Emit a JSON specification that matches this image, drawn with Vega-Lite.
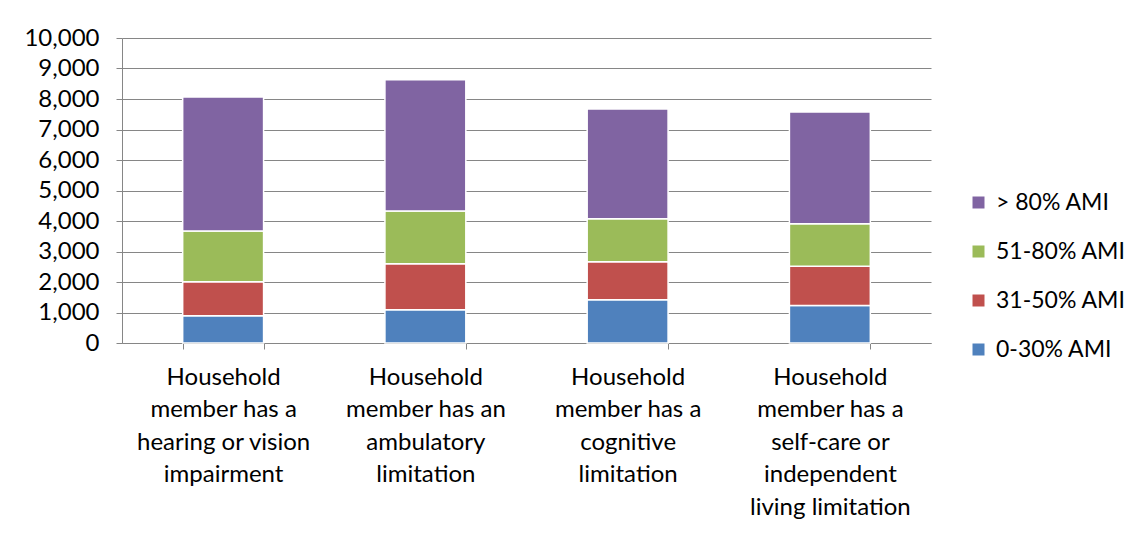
{
  "$schema": "https://vega.github.io/schema/vega-lite/v6.json",
  "width": 809,
  "height": 305,
  "autosize": {"type": "none"},
  "padding": {"left": 122, "top": 38, "right": 212, "bottom": 190},
  "background": "white",
  "config": {
    "view": {"stroke": null},
    "font": "Lato",
    "axis": {"labelFont": "Lato", "labelColor": "#000000", "labelFontSize": 24},
    "legend": {"labelFont": "Lato", "labelColor": "#000000", "labelFontSize": 23}
  },
  "data": {
    "values": [
      {"category": "Household\nmember has a\nhearing or vision\nimpairment", "band": "0-30% AMI", "households": 890},
      {"category": "Household\nmember has a\nhearing or vision\nimpairment", "band": "31-50% AMI", "households": 1115},
      {"category": "Household\nmember has a\nhearing or vision\nimpairment", "band": "51-80% AMI", "households": 1670},
      {"category": "Household\nmember has a\nhearing or vision\nimpairment", "band": "> 80% AMI", "households": 4390},
      {"category": "Household\nmember has an\nambulatory\nlimitation", "band": "0-30% AMI", "households": 1090},
      {"category": "Household\nmember has an\nambulatory\nlimitation", "band": "31-50% AMI", "households": 1505},
      {"category": "Household\nmember has an\nambulatory\nlimitation", "band": "51-80% AMI", "households": 1735},
      {"category": "Household\nmember has an\nambulatory\nlimitation", "band": "> 80% AMI", "households": 4300},
      {"category": "Household\nmember has a\ncognitive\nlimitation", "band": "0-30% AMI", "households": 1420},
      {"category": "Household\nmember has a\ncognitive\nlimitation", "band": "31-50% AMI", "households": 1240},
      {"category": "Household\nmember has a\ncognitive\nlimitation", "band": "51-80% AMI", "households": 1410},
      {"category": "Household\nmember has a\ncognitive\nlimitation", "band": "> 80% AMI", "households": 3600},
      {"category": "Household\nmember has a\nself-care or\nindependent\nliving limitation", "band": "0-30% AMI", "households": 1230},
      {"category": "Household\nmember has a\nself-care or\nindependent\nliving limitation", "band": "31-50% AMI", "households": 1290},
      {"category": "Household\nmember has a\nself-care or\nindependent\nliving limitation", "band": "51-80% AMI", "households": 1390},
      {"category": "Household\nmember has a\nself-care or\nindependent\nliving limitation", "band": "> 80% AMI", "households": 3660}
    ]
  },
  "mark": {"type": "bar", "stroke": "white", "strokeWidth": 1.5},
  "encoding": {
    "x": {
      "field": "category",
      "type": "nominal",
      "sort": null,
      "scale": {"paddingInner": 0.6, "paddingOuter": 0.3},
      "axis": {
        "title": null,
        "labelAngle": 0,
        "labelExpr": "split(datum.label, '\\n')",
        "labelLineHeight": 32.5,
        "labelPadding": 16,
        "labelBaseline": "top",
        "tickBand": "extent",
        "tickSize": 6,
        "tickColor": "#868686",
        "domainColor": "#868686",
        "labelLimit": 0
      }
    },
    "y": {
      "field": "households",
      "type": "quantitative",
      "stack": "zero",
      "scale": {"domain": [0, 10000]},
      "axis": {
        "title": null,
        "values": [0, 1000, 2000, 3000, 4000, 5000, 6000, 7000, 8000, 9000, 10000],
        "format": ",d",
        "tickSize": 6,
        "tickColor": "#868686",
        "domainColor": "#868686",
        "gridColor": "#868686",
        "gridOpacity": 1,
        "labelPadding": 17
      }
    },
    "color": {
      "field": "band",
      "type": "nominal",
      "scale": {
        "domain": ["> 80% AMI", "51-80% AMI", "31-50% AMI", "0-30% AMI"],
        "range": ["#8064A2", "#9BBB59", "#C0504D", "#4F81BD"]
      },
      "legend": {
        "title": null,
        "orient": "none",
        "legendX": 845,
        "legendY": 153,
        "symbolType": "square",
        "symbolSize": 144,
        "symbolStrokeWidth": 0,
        "rowPadding": 25,
        "labelOffset": 6
      }
    },
    "order": {"field": "band", "sort": "ascending"}
  }
}
